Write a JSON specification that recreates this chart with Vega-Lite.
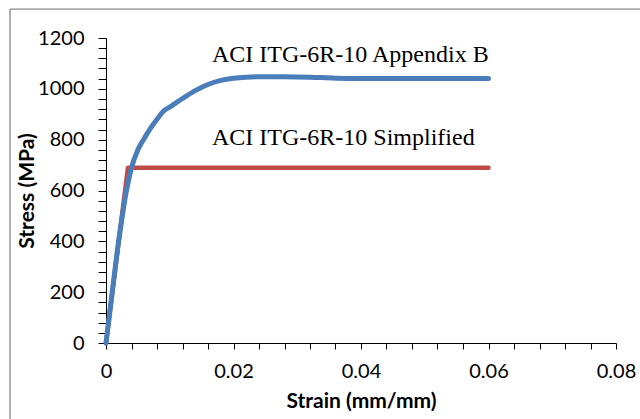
{
  "$schema": "https://vega.github.io/schema/vega-lite/v6.json",
  "width": 510,
  "height": 305,
  "autosize": "none",
  "padding": {"left": 106, "top": 38, "right": 24, "bottom": 76},
  "background": "white",
  "config": {
    "view": {"stroke": null},
    "axis": {
      "grid": false,
      "domainColor": "#000000",
      "domainWidth": 1,
      "tickColor": "#000000",
      "tickWidth": 1,
      "labelFont": "Lato",
      "labelFontSize": 20,
      "labelColor": "#000000",
      "titleFont": "Lato",
      "titleFontSize": 21,
      "titleFontWeight": "bold",
      "titleColor": "#000000"
    }
  },
  "datasets": {
    "curves": [
      {"series": "Appendix B", "strain": 0, "stress": 0},
      {"series": "Appendix B", "strain": 0.001, "stress": 205},
      {"series": "Appendix B", "strain": 0.002, "stress": 405},
      {"series": "Appendix B", "strain": 0.0025, "stress": 490},
      {"series": "Appendix B", "strain": 0.003, "stress": 570},
      {"series": "Appendix B", "strain": 0.0035, "stress": 635},
      {"series": "Appendix B", "strain": 0.004, "stress": 690},
      {"series": "Appendix B", "strain": 0.005, "stress": 760},
      {"series": "Appendix B", "strain": 0.006, "stress": 805},
      {"series": "Appendix B", "strain": 0.007, "stress": 845},
      {"series": "Appendix B", "strain": 0.008, "stress": 880},
      {"series": "Appendix B", "strain": 0.009, "stress": 912},
      {"series": "Appendix B", "strain": 0.01, "stress": 928},
      {"series": "Appendix B", "strain": 0.012, "stress": 962},
      {"series": "Appendix B", "strain": 0.014, "stress": 993},
      {"series": "Appendix B", "strain": 0.016, "stress": 1017},
      {"series": "Appendix B", "strain": 0.018, "stress": 1033},
      {"series": "Appendix B", "strain": 0.02, "stress": 1042},
      {"series": "Appendix B", "strain": 0.022, "stress": 1046},
      {"series": "Appendix B", "strain": 0.025, "stress": 1048},
      {"series": "Appendix B", "strain": 0.028, "stress": 1048},
      {"series": "Appendix B", "strain": 0.032, "stress": 1046},
      {"series": "Appendix B", "strain": 0.036, "stress": 1042},
      {"series": "Appendix B", "strain": 0.04, "stress": 1041},
      {"series": "Appendix B", "strain": 0.05, "stress": 1041},
      {"series": "Appendix B", "strain": 0.06, "stress": 1041},
      {"series": "Simplified", "strain": 0, "stress": 0},
      {"series": "Simplified", "strain": 0.00345, "stress": 690},
      {"series": "Simplified", "strain": 0.06, "stress": 690}
    ]
  },
  "layer": [
    {
      "data": {"values": [{}]},
      "mark": {"type": "rule", "color": "#888888", "strokeWidth": 1.3, "clip": false},
      "encoding": {
        "x": {"datum": -0.01506, "type": "quantitative", "scale": {"domain": [0, 0.08], "nice": false}},
        "y": {"datum": 1314, "type": "quantitative", "scale": {"domain": [0, 1200], "nice": false}},
        "y2": {"datum": -400}
      }
    },
    {
      "data": {"values": [{}]},
      "mark": {"type": "rule", "color": "#888888", "strokeWidth": 1.3, "clip": false},
      "encoding": {
        "x": {"datum": -0.01506, "type": "quantitative"},
        "x2": {"datum": 0.12},
        "y": {"datum": 1314, "type": "quantitative"}
      }
    },
    {
      "data": {"name": "curves"},
      "transform": [{"filter": "datum.series === 'Simplified'"}],
      "mark": {"type": "line", "color": "#BE4B48", "strokeWidth": 4.5, "strokeJoin": "round", "strokeCap": "round"},
      "encoding": {
        "x": {
          "field": "strain", "type": "quantitative",
          "scale": {"domain": [0, 0.08], "nice": false},
          "axis": {
            "title": "Strain (mm/mm)",
            "values": [0, 0.004, 0.008, 0.012, 0.016, 0.02, 0.024, 0.028, 0.032, 0.036, 0.04, 0.044, 0.048, 0.052, 0.056, 0.06, 0.064, 0.068, 0.072, 0.076, 0.08],
            "tickCount": 100,
            "labelExpr": "abs(datum.value*50 - round(datum.value*50)) < 1e-6 ? (datum.value == 0 ? '0' : format(datum.value, '.2f')) : ''",
            "tickSize": 6,
            "labelPadding": 12,
            "titlePadding": 9,
            "labelFlush": false,
            "labelOverlap": false
          }
        },
        "y": {
          "field": "stress", "type": "quantitative",
          "scale": {"domain": [0, 1200], "nice": false},
          "axis": {
            "title": "Stress (MPa)",
            "values": [0, 40, 80, 120, 160, 200, 240, 280, 320, 360, 400, 440, 480, 520, 560, 600, 640, 680, 720, 760, 800, 840, 880, 920, 960, 1000, 1040, 1080, 1120, 1160, 1200],
            "tickCount": 100,
            "labelExpr": "datum.value % 200 === 0 ? format(datum.value, 'd') : ''",
            "tickSize": 8,
            "labelPadding": 14,
            "titlePadding": 0,
            "labelFlush": false,
            "labelOverlap": false
          }
        }
      }
    },
    {
      "data": {"name": "curves"},
      "transform": [{"filter": "datum.series === 'Appendix B'"}],
      "mark": {"type": "line", "color": "#4A7EBB", "strokeWidth": 5, "strokeJoin": "round", "strokeCap": "round", "interpolate": "monotone"},
      "encoding": {
        "x": {"field": "strain", "type": "quantitative"},
        "y": {"field": "stress", "type": "quantitative"}
      }
    },
    {
      "data": {"values": [{}]},
      "mark": {"type": "text", "text": "ACI ITG-6R-10 Appendix B", "font": "Liberation Serif", "fontSize": 24, "align": "left", "baseline": "alphabetic", "color": "#000000"},
      "encoding": {
        "x": {"datum": 0.01663, "type": "quantitative"},
        "y": {"datum": 1105, "type": "quantitative"}
      }
    },
    {
      "data": {"values": [{}]},
      "mark": {"type": "text", "text": "ACI ITG-6R-10 Simplified", "font": "Liberation Serif", "fontSize": 24, "align": "left", "baseline": "alphabetic", "color": "#000000"},
      "encoding": {
        "x": {"datum": 0.01663, "type": "quantitative"},
        "y": {"datum": 779, "type": "quantitative"}
      }
    }
  ]
}
